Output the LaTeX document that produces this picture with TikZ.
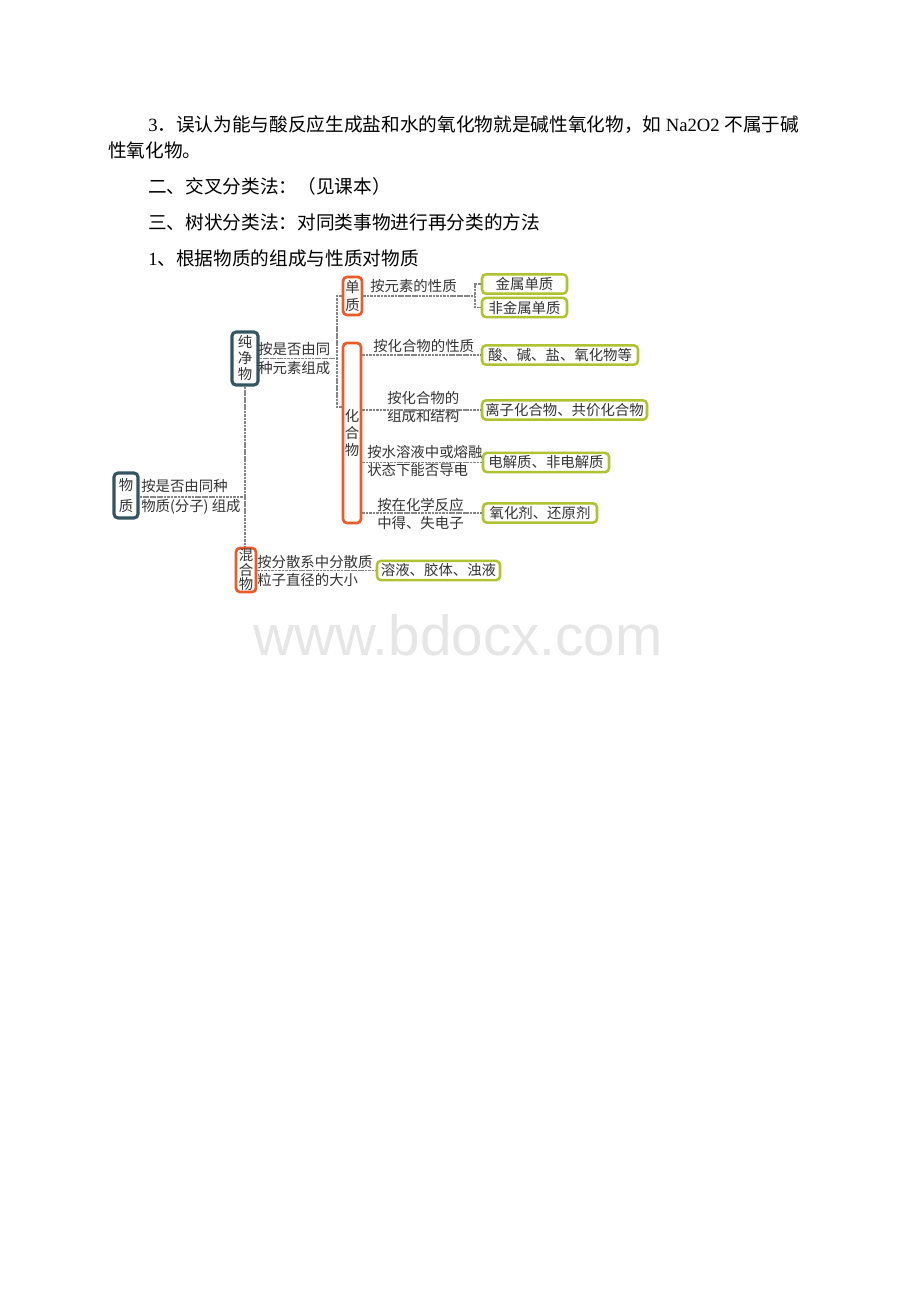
\documentclass[tikz,border=0pt]{standalone}
\usepackage{fontspec}
\setmainfont{Liberation Serif}
\newfontfamily\cjk{Noto Sans CJK SC}
\newfontfamily\wmfont{Liberation Sans}
\definecolor{ink}{HTML}{333333}
\definecolor{darkb}{HTML}{34545F}
\definecolor{orab}{HTML}{EC5A28}
\definecolor{greenb}{HTML}{AEC232}
\definecolor{linegray}{HTML}{858585}
\definecolor{wmgray}{HTML}{E6E6E6}
\begin{document}
\begin{tikzpicture}[x=0.75pt,y=-0.75pt,
  txt/.style={anchor=base west, inner sep=0, font=\cjk\fontsize{14}{16}\selectfont, text=black},
  lbl/.style={anchor=west, inner sep=0, align=left, font=\cjk\fontsize{10.8}{13.5}\selectfont, text=ink},
  boxbase/.style={rounded corners=3pt, fill=white, inner sep=0, align=center, text=ink},
  dbox/.style={boxbase, draw=darkb, line width=2.3pt, font=\cjk\fontsize{10.8}{12}\selectfont},
  obox/.style={boxbase, draw=orab, line width=2pt, font=\cjk\fontsize{10.8}{12}\selectfont},
  gbox/.style={boxbase, draw=greenb, line width=1.9pt, font=\cjk\fontsize{10.8}{12}\selectfont, minimum height=14.5pt},
  conn/.style={draw=linegray, line width=0.9pt, dash pattern=on 2pt off 0.6pt}
]
\useasboundingbox[fill=white] (0,0) rectangle (920,1302);

% ---- body text ----
\node[txt] (t1) at (148,132) {{\rmfamily 3}{\cjk ．误认为能与酸反应生成盐和水的氧化物就是碱性氧化物，如 }{\rmfamily Na2O2 }{\cjk 不属于碱}};
\node[txt] (t2) at (108,158) {性氧化物。};
\node[txt] (t3) at (148,193) {二、交叉分类法：（见课本）};
\node[txt] (t4) at (148,229) {三、树状分类法：对同类事物进行再分类的方法};
\node[txt] (t5) at (148,265) {{\rmfamily 1}{\cjk 、根据物质的组成与性质对物质}};

% ---- boxes ----
\node[dbox, minimum width=18pt, minimum height=33.75pt, font=\cjk\fontsize{10.8}{15.5}\selectfont] (wz) at (126,495.5) {物\\质};
\node[dbox, minimum width=19.5pt, minimum height=39.75pt] (cjw) at (245,358.5) {纯\\净\\物};
\node[obox, minimum width=15pt, minimum height=33pt, font=\cjk\fontsize{10.8}{10.8}\selectfont] (hhw) at (246,570) {混\\合\\物};
\node[obox, minimum width=14.25pt, minimum height=28.5pt, font=\cjk\fontsize{10.8}{14}\selectfont] (dz) at (352.5,296) {单\\质};
\node[obox, minimum width=13.5pt, minimum height=135pt, font=\cjk\fontsize{10.8}{12.5}\selectfont] (hw) at (352,433) {化\\合\\物};

\node[gbox, minimum width=63.75pt] (g1) at (524.5,284) {金属单质};
\node[gbox, minimum width=63.75pt] (g2) at (524.5,307.5) {非金属单质};
\node[gbox, minimum width=117pt] (g3) at (560,355) {酸、碱、盐、氧化物等};
\node[gbox, minimum width=123.75pt] (g4) at (564.5,410) {离子化合物、共价化合物};
\node[gbox, minimum width=94.5pt] (g5) at (546,462.5) {电解质、非电解质};
\node[gbox, minimum width=85.5pt] (g6) at (540,513) {氧化剂、还原剂};
\node[gbox, minimum width=92.25pt] (g7) at (438.5,570.5) {溶液、胶体、浊液};

% ---- labels ----
\node[lbl, font=\cjk\fontsize{10.8}{15}\selectfont] (l1) at (141,497) {按是否由同种\\物质(分子) 组成};
\node[lbl, font=\cjk\fontsize{10.8}{14.25}\selectfont] (l2) at (258,358.5) {按是否由同\\种元素组成};
\node[lbl] (l3) at (370,286) {按元素的性质};
\node[lbl] (l4) at (373,346) {按化合物的性质};
\node[lbl] (l5) at (387,407) {按化合物的\\组成和结构};
\node[lbl] (l6) at (367,461) {按水溶液中或熔融\\状态下能否导电};
\node[lbl] (l7) at (377,514) {按在化学反应\\中得、失电子};
\node[lbl] (l8) at (257,570.5) {按分散系中分散质\\粒子直径的大小};

% ---- connectors ----
\coordinate (trunkA) at (245,497);
\coordinate (brT) at (337,296);
\coordinate (brM) at (337,358.5);
\coordinate (brB) at (337,407);
\coordinate (sbT) at (475,284);
\coordinate (sbM) at (475,296);
\coordinate (sbB) at (475,307.5);

\draw[conn] (wz.east |- trunkA) -- (trunkA);
\draw[conn] (cjw.south) -- (cjw.south |- hhw.north);
\draw[conn] (cjw.east) -- (brM);
\draw[conn] (dz.west) -- (brT) -- (brB) -- (hw.west |- brB);
\draw[conn] (dz.east) -- (sbM);
\draw[conn] (g1.west) -- (sbT) -- (sbB) -- (g2.west);
\draw[conn] (hw.east |- g3.west) -- (g3.west);
\draw[conn] (hw.east |- g4.west) -- (g4.west);
\draw[conn] (hw.east |- g5.west) -- (g5.west);
\draw[conn] (hw.east |- g6.west) -- (g6.west);
\draw[conn] (hhw.east |- g7.west) -- (g7.west);

% ---- watermark ----
\node[anchor=base, inner sep=0, text=wmgray, font=\wmfont\fontsize{42.5}{48}\selectfont] (wm) at (458,655) {www.bdocx.com};
\end{tikzpicture}
\end{document}
